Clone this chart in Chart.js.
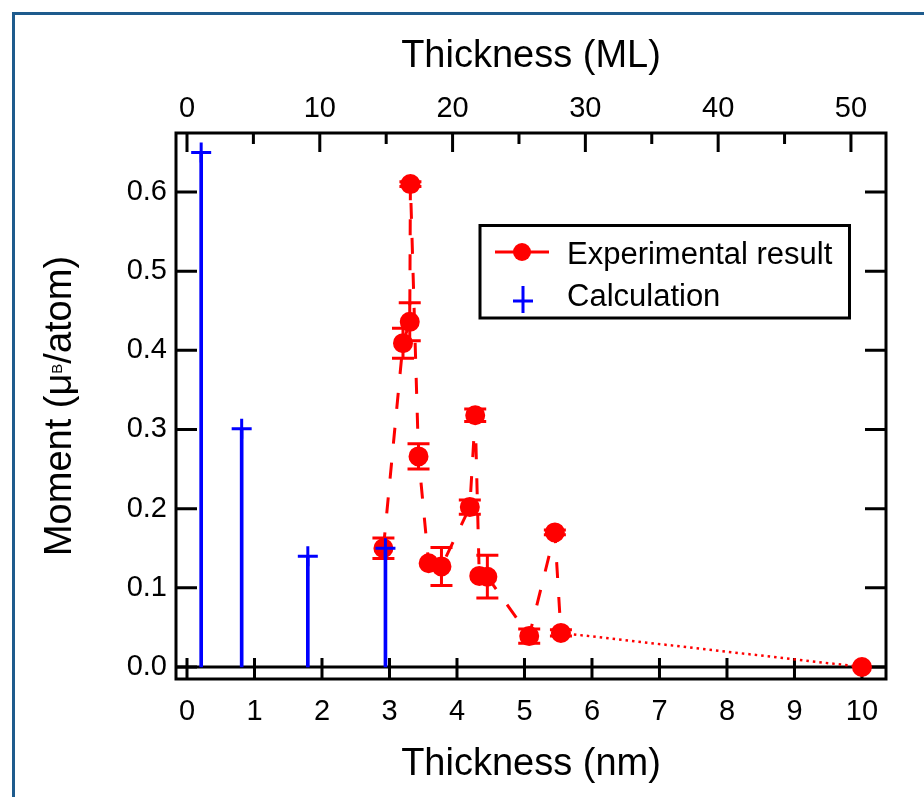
<!DOCTYPE html>
<html>
<head>
<meta charset="utf-8">
<script src="https://cdn.jsdelivr.net/npm/chart.js@4.4.0/dist/chart.umd.min.js"></script>
<style>
    html, body { margin: 0; padding: 0; background: #fff; }
    #wrap { position: relative; width: 924px; height: 797px; }
</style>
</head>
<body>
<div id="wrap"><canvas id="graficoMomento" width="924" height="797"></canvas></div>
<script>
// Resultado experimental: espessura (nm), momento (muB/atom) e barra de erro
const expX = [2.91, 3.20, 3.30, 3.31, 3.43, 3.58, 3.77, 4.19, 4.27, 4.33, 4.45, 5.07, 5.45, 5.54, 10.0];
const expY = [0.150, 0.409, 0.436, 0.610, 0.266, 0.131, 0.127, 0.202, 0.318, 0.115, 0.114, 0.039, 0.170, 0.043, 0.000];
const expErr = [0.013, 0.019, 0.024, 0.003, 0.016, 0.000, 0.024, 0.009, 0.008, 0.000, 0.027, 0.009, 0.003, 0.004, 0.000];

// Calculo teorico
const calcX = [0.21, 0.81, 1.79, 2.94];
const calcY = [0.650, 0.301, 0.140, 0.150];

// Marcas dos eixos
const nmTicks = [0, 1, 2, 3, 4, 5, 6, 7, 8, 9, 10];
const mlTicks = [0, 10, 20, 30, 40, 50];
const mlMinorTicks = [5, 15, 25, 35, 45];
const momentTicks = [0, 0.1, 0.2, 0.3, 0.4, 0.5, 0.6];

const ML_POR_NM = 5.083;
const NM_MIN = -0.163, NM_MAX = 10.356;
const FONTE = '"Liberation Sans", Arial, Helvetica, sans-serif';

Chart.defaults.font.family = FONTE;
Chart.defaults.color = '#000';

const pontosExp = expX.map((x, i) => ({ x: x, y: expY[i] }));
const pontosCalc = calcX.map((x, i) => ({ x: x, y: calcY[i] }));

// moldura, marcas internas, barras de erro, legenda e titulo do eixo y
const molduraPlugin = {
    id: 'moldura',
    beforeDraw(chart) {
        const ctx = chart.ctx;
        ctx.save();
        ctx.fillStyle = '#fff';
        ctx.fillRect(0, 0, chart.width, chart.height);
        ctx.strokeStyle = '#1e5b8d';
        ctx.lineWidth = 3;
        ctx.beginPath();
        ctx.moveTo(13.5, chart.height);
        ctx.lineTo(13.5, 13.5);
        ctx.lineTo(chart.width, 13.5);
        ctx.stroke();
        ctx.restore();
    },
    beforeDatasetsDraw(chart) {
        const ctx = chart.ctx;
        const { left, right, top, bottom } = chart.chartArea;
        const xs = chart.scales.x, x2 = chart.scales.x2, ys = chart.scales.y;
        ctx.save();
        ctx.strokeStyle = '#000';
        ctx.lineWidth = 3;
        ctx.lineCap = 'butt';
        ctx.strokeRect(left, top, right - left, bottom - top);

        // linha do zero
        const y0 = ys.getPixelForValue(0);
        ctx.beginPath();
        ctx.moveTo(left, y0);
        ctx.lineTo(right, y0);
        ctx.stroke();

        ctx.beginPath();
        momentTicks.forEach(v => {
            const py = ys.getPixelForValue(v);
            ctx.moveTo(left, py); ctx.lineTo(left + 21, py);
            ctx.moveTo(right, py); ctx.lineTo(right - 21, py);
        });
        nmTicks.forEach(v => {
            const px = xs.getPixelForValue(v);
            ctx.moveTo(px, bottom); ctx.lineTo(px, bottom - 21);
        });
        mlTicks.forEach(v => {
            const px = x2.getPixelForValue(v);
            ctx.moveTo(px, top); ctx.lineTo(px, top + 19);
        });
        mlMinorTicks.forEach(v => {
            const px = x2.getPixelForValue(v);
            ctx.moveTo(px, top); ctx.lineTo(px, top + 11);
        });
        ctx.stroke();

        // barras de erro (ficam atras dos marcadores)
        ctx.strokeStyle = '#ff0000';
        ctx.beginPath();
        expX.forEach((x, i) => {
            if (!expErr[i]) return;
            const px = xs.getPixelForValue(x);
            const pHi = ys.getPixelForValue(expY[i] + expErr[i]);
            const pLo = ys.getPixelForValue(expY[i] - expErr[i]);
            ctx.moveTo(px, pHi); ctx.lineTo(px, pLo);
            ctx.moveTo(px - 11, pHi); ctx.lineTo(px + 11, pHi);
            ctx.moveTo(px - 11, pLo); ctx.lineTo(px + 11, pLo);
        });
        ctx.stroke();
        ctx.restore();
    },
    afterDraw(chart) {
        const ctx = chart.ctx;
        const { top, bottom } = chart.chartArea;
        ctx.save();

        // titulo do eixo y com subscrito
        ctx.translate(71, (top + bottom) / 2);
        ctx.rotate(-Math.PI / 2);
        ctx.fillStyle = '#000';
        ctx.textBaseline = 'alphabetic';
        const partes = [
            { t: 'Moment (\u03bc', size: 38, dy: 0 },
            { t: 'B', size: 15, dy: -9 },
            { t: '/atom)', size: 38, dy: 0 }
        ];
        let total = 0;
        partes.forEach(p => {
            ctx.font = p.size + 'px ' + FONTE;
            p.w = ctx.measureText(p.t).width;
            total += p.w;
        });
        let cx = -total / 2;
        partes.forEach(p => {
            ctx.font = p.size + 'px ' + FONTE;
            ctx.fillText(p.t, cx, p.dy);
            cx += p.w;
        });
        ctx.restore();

        // legenda
        ctx.save();
        ctx.lineWidth = 3;
        ctx.strokeStyle = '#000';
        ctx.fillStyle = '#fff';
        ctx.fillRect(480, 225.5, 369.5, 92.5);
        ctx.strokeRect(480, 225.5, 369.5, 92.5);

        ctx.strokeStyle = '#ff0000';
        ctx.fillStyle = '#ff0000';
        ctx.beginPath();
        ctx.moveTo(495, 252); ctx.lineTo(549, 252);
        ctx.stroke();
        ctx.beginPath();
        ctx.arc(522, 252, 9, 0, Math.PI * 2);
        ctx.fill();

        ctx.strokeStyle = '#0000ff';
        ctx.beginPath();
        ctx.moveTo(523, 286); ctx.lineTo(523, 313);
        ctx.moveTo(513, 301); ctx.lineTo(533, 301);
        ctx.stroke();

        ctx.fillStyle = '#000';
        ctx.font = '31px ' + FONTE;
        ctx.textBaseline = 'alphabetic';
        ctx.fillText('Experimental result', 567, 264);
        ctx.fillText('Calculation', 567, 306);
        ctx.restore();
    }
};

new Chart(document.getElementById('graficoMomento'), {
    data: {
        datasets: [
            {
                type: 'bar',
                label: 'Calculation',
                data: pontosCalc,
                backgroundColor: '#0000ff',
                borderWidth: 0,
                barThickness: 3,
                order: 0
            },
            {
                type: 'scatter',
                label: 'Calculation',
                data: pontosCalc,
                showLine: false,
                pointStyle: 'cross',
                pointRadius: 10,
                borderColor: '#0000ff',
                borderWidth: 3,
                order: 0
            },
            {
                type: 'line',
                label: 'Experimental result',
                data: pontosExp,
                borderColor: '#ff0000',
                backgroundColor: '#ff0000',
                borderWidth: 3,
                borderDash: [16, 19],
                pointRadius: 9,
                pointBorderWidth: 2,
                pointBackgroundColor: '#ff0000',
                pointBorderColor: '#ff0000',
                tension: 0,
                segment: {
                    // ultimo trecho pontilhado ate 10 nm
                    borderDash: ctx => ctx.p1DataIndex === expX.length - 1 ? [2.5, 4] : undefined,
                    borderWidth: ctx => ctx.p1DataIndex === expX.length - 1 ? 2.5 : undefined
                },
                order: 1
            }
        ]
    },
    options: {
        responsive: false,
        animation: false,
        layout: { padding: { left: 0, right: 38, top: 0, bottom: 0 } },
        plugins: {
            legend: { display: false },
            tooltip: { enabled: false }
        },
        scales: {
            x: {
                type: 'linear',
                position: 'bottom',
                offset: false,
                min: NM_MIN,
                max: NM_MAX,
                grid: { display: false, drawTicks: false, offset: false },
                border: { display: false },
                afterBuildTicks: s => { s.ticks = nmTicks.map(v => ({ value: v })); },
                ticks: { padding: 16, font: { size: 29 }, color: '#000', maxRotation: 0, autoSkip: false },
                title: { display: true, text: 'Thickness (nm)', font: { size: 38 }, color: '#000', padding: { top: 0, bottom: 10 } },
                afterFit: s => { s.height = 118; }
            },
            x2: {
                type: 'linear',
                position: 'top',
                offset: false,
                min: NM_MIN * ML_POR_NM,
                max: NM_MAX * ML_POR_NM,
                grid: { display: false, drawTicks: false },
                border: { display: false },
                afterBuildTicks: s => { s.ticks = mlTicks.map(v => ({ value: v })); },
                ticks: { padding: 7, font: { size: 29 }, color: '#000', maxRotation: 0, autoSkip: false },
                title: { display: true, text: 'Thickness (ML)', font: { size: 38 }, color: '#000', padding: { top: 34, bottom: 0 } },
                afterFit: s => { s.height = 133; }
            },
            y: {
                type: 'linear',
                position: 'left',
                min: -0.0152,
                max: 0.6745,
                grid: { display: false, drawTicks: false },
                border: { display: false },
                afterBuildTicks: s => { s.ticks = momentTicks.map(v => ({ value: v })); },
                ticks: { padding: 9, font: { size: 29 }, color: '#000', autoSkip: false, callback: v => v.toFixed(1) },
                afterFit: s => { s.width = 176; }
            }
        }
    },
    plugins: [molduraPlugin]
});
</script>
</body>
</html>
